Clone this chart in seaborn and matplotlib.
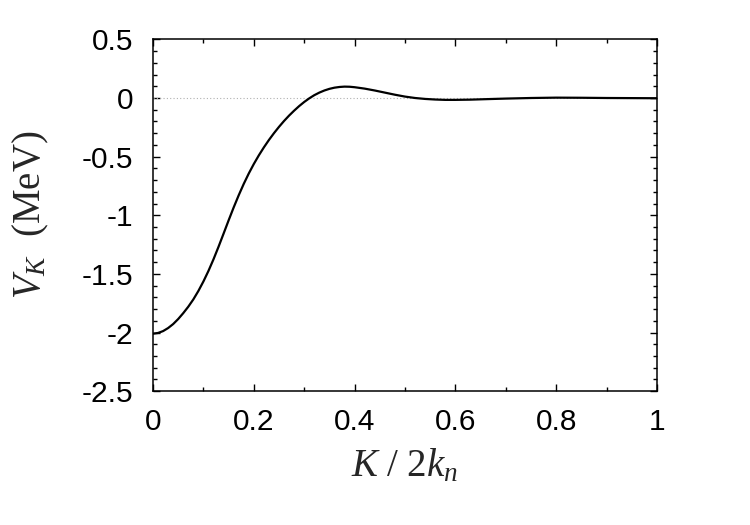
import pandas as pd
import seaborn as sns
from matplotlib import pyplot as plt
from matplotlib.ticker import MultipleLocator

# * curve values
k_ratio = [0.00, 0.01, 0.02, 0.03, 0.04, 0.05, 0.06, 0.07, 0.08, 0.09,
           0.10, 0.11, 0.12, 0.13, 0.14, 0.15, 0.16, 0.17, 0.18, 0.19,
           0.20, 0.21, 0.22, 0.23, 0.24, 0.25, 0.26, 0.27, 0.28, 0.29,
           0.30, 0.31, 0.32, 0.33, 0.34, 0.35, 0.36, 0.37, 0.38, 0.39,
           0.40, 0.42, 0.44, 0.46, 0.48, 0.50, 0.52, 0.54, 0.56, 0.58,
           0.60, 0.63, 0.66, 0.70, 0.75, 0.80, 0.85, 0.90, 0.95, 1.00]
v_k = [-2.010, -2.004, -1.988, -1.962, -1.928, -1.885, -1.835, -1.780, -1.718, -1.646,
       -1.565, -1.475, -1.376, -1.269, -1.157, -1.044, -0.934, -0.830, -0.733, -0.644,
       -0.563, -0.489, -0.421, -0.358, -0.300, -0.246, -0.196, -0.150, -0.108, -0.069,
       -0.034, -0.003, 0.024, 0.046, 0.064, 0.078, 0.088, 0.094, 0.097, 0.096,
       0.092, 0.080, 0.064, 0.046, 0.028, 0.012, 0.000, -0.008, -0.013, -0.016,
       -0.016, -0.014, -0.010, -0.005, 0.000, 0.003, 0.002, 0.000, -0.001, -0.002]

x_ticks = [0, 0.2, 0.4, 0.6, 0.8, 1]
x_tick_labels = ["0", "0.2", "0.4", "0.6", "0.8", "1"]
y_ticks = [-2.5, -2, -1.5, -1, -0.5, 0, 0.5]
y_tick_labels = ["-2.5", "-2", "-1.5", "-1", "-0.5", "0", "0.5"]

df = pd.DataFrame({"k": k_ratio, "v": v_k})

sns.set_style("ticks")
plt.rcParams["font.family"] = ["Liberation Sans", "DejaVu Sans"]
plt.rcParams["mathtext.fontset"] = "custom"
plt.rcParams["mathtext.rm"] = "Liberation Serif"
plt.rcParams["mathtext.it"] = "Liberation Serif:italic"

fig = plt.figure(figsize=(7.5, 5.25), dpi=100)
ax = fig.add_axes([0.204, 0.255, 0.672, 0.670])

# * zero reference line
ax.axhline(0, color="#b0b0b0", lw=0.8, ls=(0, (1, 2)), zorder=1)

sns.lineplot(data=df, x="k", y="v", color="black", lw=1.6, ax=ax, zorder=3)

ax.set_xlim(0, 1)
ax.set_ylim(-2.5, 0.5)
ax.set_xticks(x_ticks)
ax.set_xticklabels(x_tick_labels)
ax.set_yticks(y_ticks)
ax.set_yticklabels(y_tick_labels)
ax.xaxis.set_minor_locator(MultipleLocator(0.1))
ax.yaxis.set_minor_locator(MultipleLocator(0.1))
ax.tick_params(which="both", direction="in", top=True, right=True, width=1.0,
               labelsize=21.5, colors="black")
ax.tick_params(axis="x", which="major", pad=12)
ax.tick_params(axis="y", which="major", pad=14)
ax.tick_params(which="major", length=5)
ax.tick_params(which="minor", length=2.8)
for s in ax.spines.values():
    s.set_linewidth(1.1)
    s.set_color("black")

ax.set_xlabel(r"$K\ /\ 2k_n$", fontsize=28, labelpad=8)
ax.set_ylabel(r"$V_K$  (MeV)", fontsize=28, family="Liberation Serif", labelpad=22)

fig.savefig("out.png", dpi=100)
plt.close()
